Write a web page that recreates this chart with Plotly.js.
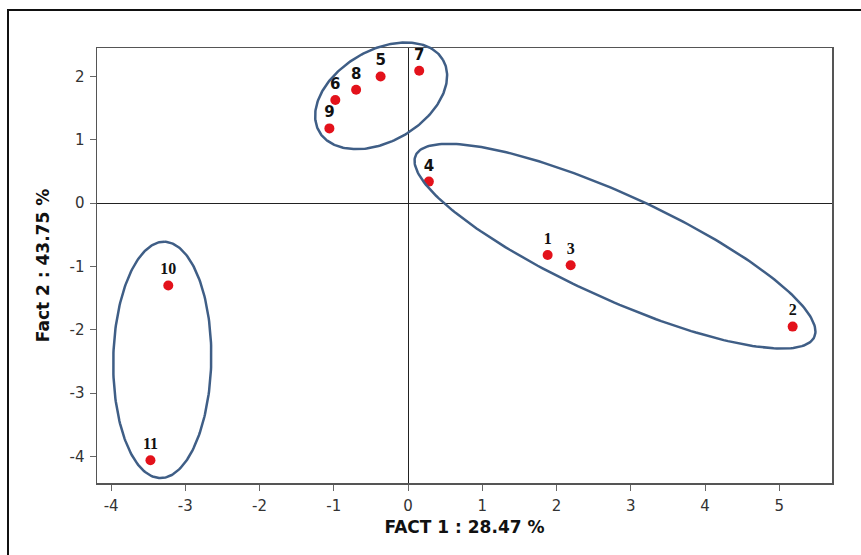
<!DOCTYPE html>
<html>
<head>
<meta charset="utf-8">
<script src="https://cdn.plot.ly/plotly-3.0.1.min.js"></script>
<style>
  html, body { margin: 0; padding: 0; background: #ffffff; }
  #wrap { position: relative; width: 861px; height: 555px; }
  #chart { position: absolute; left: 0; top: 0; width: 861px; height: 555px; }
  #frame { position: absolute; left: 7px; top: 9px; width: 900px; height: 600px;
           border-left: 2px solid #111; border-top: 2px solid #111; pointer-events: none; }
</style>
</head>
<body>
<div id="wrap">
  <div id="chart"></div>
  <div id="frame"></div>
</div>
<script>
// ---- data ----
const labels = ['1', '2', '3', '4', '5', '6', '7', '8', '9', '10', '11'];
const fact1  = [1.88, 5.18, 2.19, 0.28, -0.37, -0.98, 0.15, -0.70, -1.06, -3.23, -3.47];
const fact2  = [-0.82, -1.95, -0.98, 0.34, 2.00, 1.63, 2.09, 1.79, 1.18, -1.30, -4.06];
const labelFonts = ['Liberation Serif', 'Liberation Serif', 'Liberation Serif', 'DejaVu Sans',
                    'DejaVu Sans', 'DejaVu Sans', 'DejaVu Sans', 'DejaVu Sans', 'DejaVu Sans',
                    'Liberation Serif', 'Liberation Serif'];

// group ellipses (centre, semi-axes in FACT 1 units, rotation in degrees)
const ellipseCx    = [-0.363, 2.787, -3.311];
const ellipseCy    = [1.695, -0.680, -2.476];
const ellipseA     = [0.964, 2.950, 1.592];
const ellipseB     = [0.614, 0.700, 0.660];
const ellipseAngle = [30.1, -24.5, 89];

const xTicks = [-4, -3, -2, -1, 0, 1, 2, 3, 4, 5];
const yTicks = [-4, -3, -2, -1, 0, 1, 2];
const xRange = [-4.19, 5.71];
const yRange = [-4.42, 2.45];

const W = 861, H = 555;
const margin = {l: 97, r: 29, t: 28, b: 72};
const frameTop = 48;                       // top of the framed plot area
const extra = frameTop - margin.t;         // room above the frame for the ellipses
const plotW = W - margin.l - margin.r;
const fullH = H - margin.t - margin.b;
const plotH = fullH - extra;
const pxPerY = plotH / (yRange[1] - yRange[0]);
const pxPerX = plotW / (xRange[1] - xRange[0]);
const k = pxPerY / pxPerX;
// overlay y scale identical to the main one, but reaching a little higher
const yRange2 = [yRange[0], yRange[1] + extra / pxPerY];

const traces = [];

traces.push({
  type: 'scatter', mode: 'markers+text',
  x: fact1, y: fact2, text: labels,
  textposition: 'top center',
  textfont: {family: labelFonts,
             size: labelFonts.map(f => f === 'Liberation Serif' ? 16 : 15),
             color: '#111', weight: 'bold'},
  marker: {color: '#e3121b', size: 10},
  showlegend: false, cliponaxis: false,
  xaxis: 'x', yaxis: 'y'
});

for (let e = 0; e < ellipseCx.length; e++) {
  const th = ellipseAngle[e] * Math.PI / 180;
  const ex = [], ey = [];
  const N = 240;
  for (let i = 0; i <= N; i++) {
    const t = 2 * Math.PI * i / N;
    const u = ellipseA[e] * Math.cos(t) * Math.cos(th) - ellipseB[e] * Math.sin(t) * Math.sin(th);
    const v = ellipseA[e] * Math.cos(t) * Math.sin(th) + ellipseB[e] * Math.sin(t) * Math.cos(th);
    ex.push(ellipseCx[e] + u);
    ey.push(ellipseCy[e] + v / k);
  }
  traces.push({
    type: 'scatter', mode: 'lines', x: ex, y: ey,
    line: {color: '#3f5e86', width: 2.5},
    hoverinfo: 'skip', showlegend: false,
    xaxis: 'x2', yaxis: 'y2'
  });
}

const axisCommon = {
  showgrid: false,
  zeroline: true, zerolinecolor: '#222', zerolinewidth: 1,
  showline: true, mirror: true, linecolor: '#555', linewidth: 1.5,
  ticks: 'outside', ticklen: 6, tickcolor: '#666', tickwidth: 1,
  ticklabelstandoff: 2,
  tickfont: {family: 'DejaVu Sans', size: 15, color: '#333'},
  fixedrange: true
};

const layout = {
  width: W, height: H,
  margin: margin,
  paper_bgcolor: 'rgba(0,0,0,0)',
  plot_bgcolor: 'rgba(0,0,0,0)',
  showlegend: false,
  xaxis: Object.assign({}, axisCommon, {
    domain: [0, 1], anchor: 'y',
    range: xRange, tickmode: 'array', tickvals: xTicks,
    ticktext: xTicks.map(String),
    title: {text: 'FACT 1 : 28.47 %', font: {family: 'DejaVu Sans', size: 17, color: '#111', weight: 'bold'}, standoff: 7}
  }),
  yaxis: Object.assign({}, axisCommon, {
    domain: [0, plotH / fullH], anchor: 'x',
    range: yRange, tickmode: 'array', tickvals: yTicks,
    ticktext: yTicks.map(String),
    title: {text: 'Fact 2 : 43.75 %', font: {family: 'DejaVu Sans', size: 17, color: '#111', weight: 'bold'}, standoff: 15}
  }),
  xaxis2: {domain: [0, 1], anchor: 'y2', range: xRange, visible: false, fixedrange: true},
  yaxis2: {domain: [0, 1], anchor: 'x2', range: yRange2, visible: false, fixedrange: true}
};

Plotly.newPlot('chart', traces, layout, {displayModeBar: false, staticPlot: true});
</script>
</body>
</html>
